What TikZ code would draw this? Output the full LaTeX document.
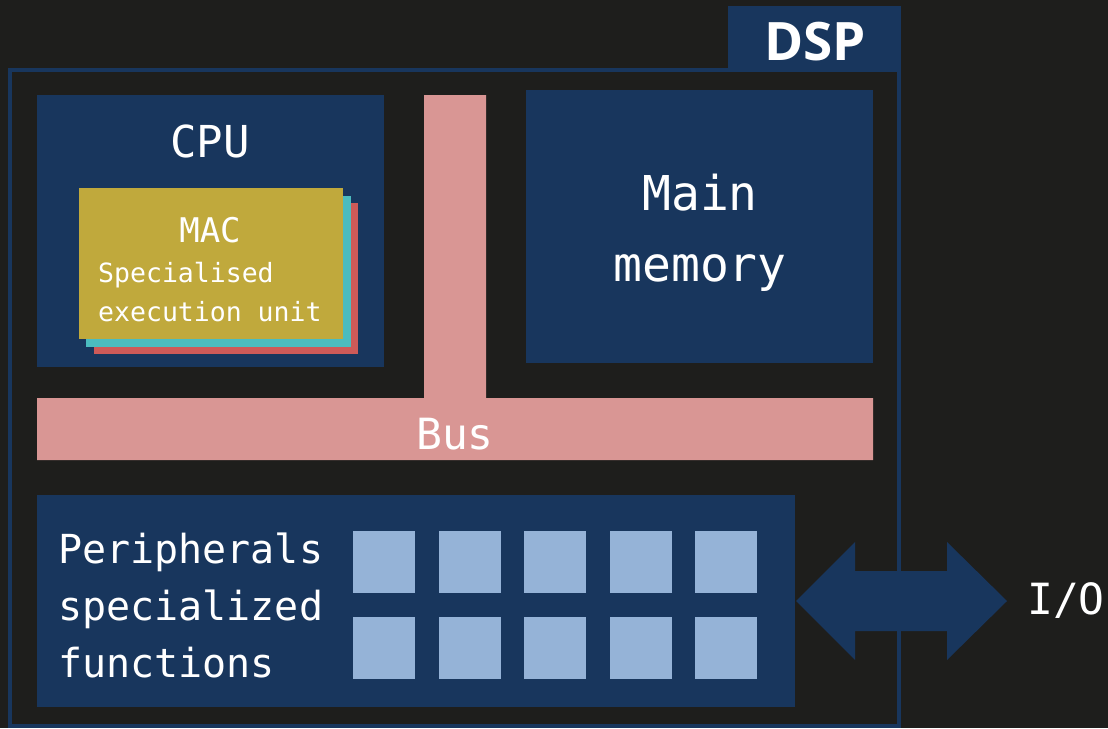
\documentclass[tikz,border=0pt]{standalone}
\usepackage{fontspec}
\setmonofont{DejaVu Sans Mono}
\newfontfamily\dspfont{Open Sans}
\definecolor{bgc}{RGB}{30,30,28}
\definecolor{dblue}{RGB}{24,54,93}
\definecolor{busc}{RGB}{217,150,148}
\definecolor{goldc}{RGB}{192,169,60}
\definecolor{tealc}{RGB}{75,188,191}
\definecolor{redc}{RGB}{205,90,88}
\definecolor{sqc}{RGB}{149,179,215}
\tikzset{
  blk/.style={fill=dblue, draw=none},
  lbl/.style={text=white, inner sep=0pt, font=\ttfamily},
  sq/.style={fill=sqc, draw=none},
}
\begin{document}
\begin{tikzpicture}[x=1pt,y=-1pt]
\fill[bgc] (0,0) rectangle (1108,728);
\useasboundingbox (0,0) rectangle (1108,728);
% DSP frame
\draw[dblue, line width=4pt] (10,70) rectangle (899,726);
\fill[dblue] (728,6) rectangle (901,72);
\node[text=white, inner sep=0pt, font=\dspfont\bfseries\fontsize{53}{60}\selectfont] (dsp) at (815,42) {DSP};
% CPU
\fill[blk] (37,95) rectangle (384,367);
\node[lbl, font=\ttfamily\fontsize{44}{50}\selectfont] (cpu) at (210,141) {CPU};
\fill[redc] (94,203) rectangle (358,354);
\fill[tealc] (86,196) rectangle (351,347);
\fill[goldc] (79,188) rectangle (343,339);
\node[lbl, font=\ttfamily\fontsize{34}{40}\selectfont] (mac) at (210,230) {MAC};
\node[lbl, anchor=west, align=left, font=\ttfamily\fontsize{26.5}{39}\selectfont] (seu) at (98,292.5) {Specialised\\execution unit};
% Main memory
\fill[blk] (526,90) rectangle (873,363);
\node[lbl, align=center, font=\ttfamily\fontsize{48}{71}\selectfont] (mem) at (700,232.5) {Main\\memory};
% Bus
\fill[busc] (424,95) -- (486,95) -- (486,398) -- (873,398) -- (873,460) -- (37,460) -- (37,398) -- (424,398) -- cycle;
\node[lbl, font=\ttfamily\fontsize{43}{50}\selectfont] (bus) at (455,434) {Bus};
% Peripherals
\fill[blk] (37,495) rectangle (795,707);
\node[lbl, anchor=west, align=left, font=\ttfamily\fontsize{40}{57}\selectfont] (per) at (58,605) {Peripherals\\specialized\\functions};
\foreach \x in {353,438.5,524,609.5,695} {
  \fill[sq] (\x,531) rectangle ++(62,62);
  \fill[sq] (\x,617) rectangle ++(62,62);
}
% I/O arrow
\coordinate (al) at (796,601);
\coordinate (ar) at (1007,601);
\fill[dblue] (al) -- ++(59,-59) -- ++(0,29) -- ++(92,0) -- ++(0,-29) -- (ar) -- ++(-60,59) -- ++(0,-29) -- ++(-92,0) -- ++(0,29) -- cycle;
\node[lbl, font=\ttfamily\fontsize{43}{50}\selectfont] (io) at (1066,601) {I/O};
\end{tikzpicture}
\end{document}
